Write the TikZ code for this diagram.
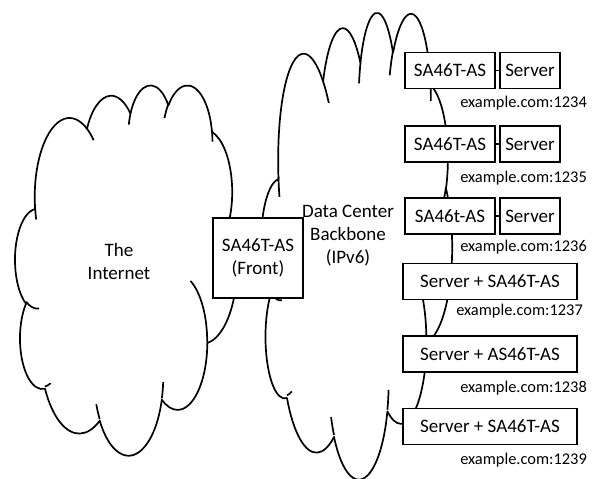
\documentclass[tikz,border=0pt]{standalone}
\usepackage{fontspec}
\setmainfont{Carlito}
\newcommand\OCdef[5]{%
  \pgfmathsetmacro\OCa{atan2((#2)*sin(#4),(#3)*cos(#4))}%
  \pgfmathsetmacro\OCb{atan2((#2)*sin((#4)+(#5)),(#3)*cos((#4)+(#5)))}%
  \pgfmathsetmacro\OCd{Mod(\OCb-\OCa,360)}%
  \expandafter\xdef\csname OCarc#1\endcsname{arc[start angle=\OCa, delta angle=\OCd, x radius=#2, y radius=#3]}}
\OCdef{a}{6.753}{9.190}{-190.48748}{123.78053}
\OCdef{b}{5.333}{7.267}{-144.10238}{89.94523}
\OCdef{c}{4.365}{5.945}{-145.80792}{99.72302}
\OCdef{d}{4.857}{6.595}{-130.98607}{117.24173}
\OCdef{e}{5.333}{7.273}{-78.70888}{109.02692}
\OCdef{f}{6.775}{9.220}{-46.26725}{130.269}
\OCdef{g}{5.785}{7.867}{0.62502}{114.03333}
\OCdef{h}{6.752}{9.215}{22.4516}{115.17255}
\OCdef{i}{7.720}{10.543}{66.24263}{75.2306}
\OCdef{j}{4.360}{5.918}{-274.94208}{146.73557}
\OCdef{k}{4.345}{5.945}{-246.8285}{152.51885}
\OCdef{ti}{4.345}{5.945}{86.742}{26.4295}
\OCdef{tii}{4.360}{5.918}{73.61047}{11.44747}
\OCdef{tiii}{6.752}{9.215}{137.62415}{14.0811}
\OCdef{tiv}{6.752}{9.215}{6.45327}{15.99835}
\OCdef{tv}{5.785}{7.867}{-70.29235}{70.91737}
\OCdef{tvi}{5.333}{7.273}{30.31803}{27.7515}
\OCdef{tvii}{4.857}{6.595}{-13.74433}{14.8589}
\OCdef{tviii}{4.857}{6.595}{-149.18145}{18.19537}
\OCdef{tix}{4.365}{5.945}{-163.49427}{17.68635}
\OCdef{tx}{6.753}{9.190}{-66.70695}{12.31935}
\OCdef{txi}{6.753}{9.190}{157.65435}{11.85817}
% lower/right part of the outline (arcs 5..11) and its inner arcs
\newcommand\OCrest{(38.319,5.578) \OCarce \OCarcf \OCarcg \OCarch \OCarci \OCarcj \OCarck -- (3.9,14.37)}
\newcommand\OCrestin{(4.693,26.177) \OCarcti (6.928,34.899) \OCarctii (16.478,39.090) \OCarctiii
  (28.827,34.751) \OCarctiv (34.129,22.954) \OCarctv (41.798,15.354) \OCarctvi}
% whole cloud, plain scaling
\newcommand\drawOC[4]{%
  \begin{scope}[shift={(#1,#2)}, x={(#3pt/43.2,0pt)}, y={(0pt,-#4pt/43.2)}]
    \edef\OCtmp{\noexpand\draw[cloudline] (3.9,14.37) \OCarca \OCarcb \OCarcc \OCarcd
      \OCarce \OCarcf \OCarcg \OCarch \OCarci \OCarcj \OCarck -- cycle;}\OCtmp
    \edef\OCtmp{\noexpand\draw[cloudline] \OCrestin (38.324,5.426) \OCarctvii
      (29.078,3.952) \OCarctviii (22.141,4.720) \OCarctix (14.000,5.192) \OCarctx
      (4.127,15.789) \OCarctxi;}\OCtmp
  \end{scope}}
% one top bump of the right cloud, stretched vertically about its chord
\def\RCsx{4.419}\def\RCsy{10.4375}
\newcommand\RCpiece[6]{%
  \pgfmathsetmacro\RCb{(1-#5)*(-((#4)-(#2))*\RCsy)/(((#3)-(#1))*\RCsx)}%
  \begin{scope}[x={(\RCsx pt,0pt)}, y={(0pt,-\RCsy pt)}, shift={(#1,#2)},
      cm={1,\RCb,0,#5,(0pt,0pt)}]
    \edef\OCtmp{\noexpand\draw[cloudline] #6;}\OCtmp
  \end{scope}}
\tikzset{
  cloudline/.style={line width=1.7pt, line join=round},
  box/.style={draw, line width=1.7pt, fill=white, inner sep=0pt, minimum height=36pt,
    font=\fontsize{19}{23}\selectfont},
  lbl/.style={inner sep=0pt, font=\fontsize{16.4}{20}\selectfont},
  bigtxt/.style={inner sep=0pt, align=center, font=\fontsize{19}{23}\selectfont},
  conn/.style={line width=1.7pt},
}
\begin{document}
\begin{tikzpicture}[x=1pt, y=-1pt]
\useasboundingbox (0,0) rectangle (595,479);
% left cloud
\drawOC{15}{84.2}{222.1}{370.2}
% right cloud
\begin{scope}[shift={(261.2,27.1)}]
  \RCpiece{3.9}{14.37}{14.005}{5.202}{1.29}{(0,0) \OCarca (0.227,1.419) \OCarctxi (10.1,-9.178) \OCarctx}
  \RCpiece{14.005}{5.202}{22.457}{3.431}{1.43}{(0,0) \OCarcb}
  \RCpiece{22.457}{3.431}{29.834}{2.482}{1.54}{(0,0) \OCarcc (-0.316,1.289) \OCarctix}
  \RCpiece{29.834}{2.482}{38.319}{5.578}{1.38}{(0,0) \OCarcd (-0.756,1.47) \OCarctviii (8.49,2.944) \OCarctvii}
  \begin{scope}[x={(\RCsx pt,0pt)}, y={(0pt,-\RCsy pt)}]
    \edef\OCtmp{\noexpand\draw[cloudline] \OCrest;}\OCtmp
    \edef\OCtmp{\noexpand\draw[cloudline] \OCrestin;}\OCtmp
  \end{scope}
\end{scope}
\node[bigtxt] (inet) at (119,261) {The\\Internet};
\node[bigtxt] (dc) at (348,236) {Data Center\\Backbone\\(IPv6)};
\node[box, minimum width=90pt, minimum height=80pt, align=center] (front) at (258,258) {SA46T-AS\\(Front)};
\node[box, minimum width=90pt] (sa1) at (450,70.5) {SA46T-AS};
\node[box, minimum width=60pt] (sv1) at (530,70.5) {Server};
\node[box, minimum width=90pt] (sa2) at (450,144) {SA46T-AS};
\node[box, minimum width=60pt] (sv2) at (530,144) {Server};
\node[box, minimum width=90pt] (sa3) at (450,216) {SA46t-AS};
\node[box, minimum width=60pt] (sv3) at (530,216) {Server};
\draw[conn] (sa1.east) -- (sv1.west);
\draw[conn] (sa2.east) -- (sv2.west);
\draw[conn] (sa3.east) -- (sv3.west);
\node[box, minimum width=174pt] (r4) at (490,281.5) {Server + SA46T-AS};
\node[box, minimum width=174pt] (r5) at (490,354) {Server + AS46T-AS};
\node[box, minimum width=174pt] (r6) at (490,426.5) {Server + SA46T-AS};
\node[lbl, anchor=east] (l1) at (587,103) {example.com:1234};
\node[lbl, anchor=east] (l2) at (587,178) {example.com:1235};
\node[lbl, anchor=east] (l3) at (587,247) {example.com:1236};
\node[lbl, anchor=east] (l4) at (583,311) {example.com:1237};
\node[lbl, anchor=east] (l5) at (587,388) {example.com:1238};
\node[lbl, anchor=east] (l6) at (587,460) {example.com:1239};
\end{tikzpicture}
\end{document}
